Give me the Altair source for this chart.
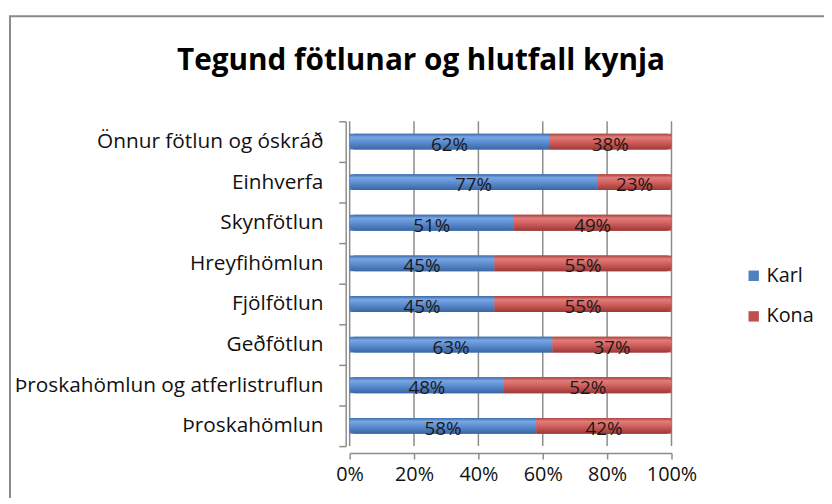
import altair as alt
import pandas as pd

categories = [
    "Önnur fötlun og óskráð",
    "Einhverfa",
    "Skynfötlun",
    "Hreyfihömlun",
    "Fjölfötlun",
    "Geðfötlun",
    "Þroskahömlun og atferlistruflun",
    "Þroskahömlun",
]
karl = [62, 77, 51, 45, 45, 63, 48, 58]
kona = [38, 23, 49, 55, 55, 37, 52, 42]
series = ["Karl", "Kona"]
colors = ["#4F81BD", "#C0504D"]
x_ticks = [0, 0.2, 0.4, 0.6, 0.8, 1.0]
title_text = "Tegund fötlunar og hlutfall kynja"

rows = []
for c, k, w in zip(categories, karl, kona):
    tot = k + w
    rows.append({"cat": c, "series": "Karl", "start": 0.0, "end": k / tot,
                 "mid": k / tot / 2, "label": f"{k}%"})
    rows.append({"cat": c, "series": "Kona", "start": k / tot, "end": 1.0,
                 "mid": (k / tot + 1) / 2, "label": f"{w}%"})
df = pd.DataFrame(rows)
grid_df = pd.DataFrame({"start": x_ticks})

FONT = "Open Sans"
GRAY = "#8c8c8c"

y_scale = alt.Scale(domain=categories, paddingInner=0, paddingOuter=0)
x_scale = alt.Scale(domain=[0, 1], nice=False)
x_axis = alt.Axis(format=".0%", values=x_ticks, labelFont=FONT,
                  labelFontSize=20, labelColor="#111111", tickSize=6,
                  labelPadding=6, offset=7, domainColor=GRAY,
                  tickColor=GRAY, domainWidth=1.5, tickWidth=1.5,
                  grid=False, labelFlush=False)

y_enc = alt.Y("cat:N", sort=categories, title=None, scale=y_scale,
              axis=alt.Axis(labelFont=FONT, labelFontSize=21, labelColor="#111111",
                            labelPadding=16, tickSize=7, tickBand="extent",
                            domainColor=GRAY, tickColor=GRAY,
                            domainWidth=1.5, tickWidth=1.5, offset=4, grid=False,
                            labelLimit=400))
x_enc = alt.X("start:Q", title=None, scale=x_scale, axis=x_axis)

base = alt.Chart(df)

grid = alt.Chart(grid_df).mark_rule(color=GRAY, strokeWidth=1.5).encode(
    x=alt.X("start:Q", title=None, scale=x_scale, axis=x_axis)
)

legend_bars = base.mark_bar(size=16).encode(
    y=y_enc, x=x_enc, x2="end:Q",
    color=alt.Color("series:N", scale=alt.Scale(domain=series, range=colors),
                    legend=alt.Legend(title=None, orient="none", legendX=398,
                                      legendY=146, symbolType="square",
                                      symbolSize=110, symbolStrokeWidth=0,
                                      labelFont=FONT, labelFontSize=20,
                                      labelColor="#111111", rowPadding=21,
                                      labelOffset=3, padding=0)),
)

grad_blue = alt.Gradient(gradient="linear", x1=0, x2=0, y1=0, y2=1, stops=[
    alt.GradientStop(color="#3d6cab", offset=0),
    alt.GradientStop(color="#79a6e4", offset=0.22),
    alt.GradientStop(color="#5b8ccf", offset=0.55),
    alt.GradientStop(color="#3a66a3", offset=1),
])
grad_red = alt.Gradient(gradient="linear", x1=0, x2=0, y1=0, y2=1, stops=[
    alt.GradientStop(color="#a94240", offset=0),
    alt.GradientStop(color="#e27d7a", offset=0.22),
    alt.GradientStop(color="#cf5e5b", offset=0.55),
    alt.GradientStop(color="#9c3937", offset=1),
])

karl_bars = base.transform_filter(alt.datum.series == "Karl").mark_bar(
    size=16, fill=grad_blue, cornerRadiusTopLeft=5, cornerRadiusBottomLeft=5
).encode(y=alt.Y("cat:N", sort=categories), x="start:Q", x2="end:Q")

kona_bars = base.transform_filter(alt.datum.series == "Kona").mark_bar(
    size=16, fill=grad_red, cornerRadiusTopRight=5, cornerRadiusBottomRight=5
).encode(y=alt.Y("cat:N", sort=categories), x="start:Q", x2="end:Q")

labels = base.mark_text(font=FONT, fontSize=19, color="#1a1a1a", dy=3).encode(
    y=alt.Y("cat:N", sort=categories), x="mid:Q", text="label:N"
)

title_df = pd.DataFrame({"t": [title_text]})
title = alt.Chart(title_df).mark_text(font=FONT, fontSize=30, fontWeight="bold",
                                      color="#000000", baseline="alphabetic",
                                      align="center").encode(
    text="t:N", x=alt.value(72), y=alt.value(-52)
)

frame_left = alt.Chart(title_df).mark_rule(color="#8a8a8a", strokeWidth=2).encode(
    x=alt.value(-343), y=alt.value(-106), y2=alt.value(420)
)
frame_top = alt.Chart(title_df).mark_rule(color="#8a8a8a", strokeWidth=2).encode(
    x=alt.value(-344), x2=alt.value(500), y=alt.value(-106)
)

chart = alt.layer(
    grid, legend_bars, karl_bars, kona_bars, labels, title, frame_left, frame_top
).properties(
    width=325, height=328,
    autosize=alt.AutoSizeParams(type="none"),
    padding={"left": 345, "top": 112, "right": 154, "bottom": 50},
    background="white",
).configure_view(stroke=None)

chart.save("out.html", embed_options={"renderer": "svg", "actions": False})
